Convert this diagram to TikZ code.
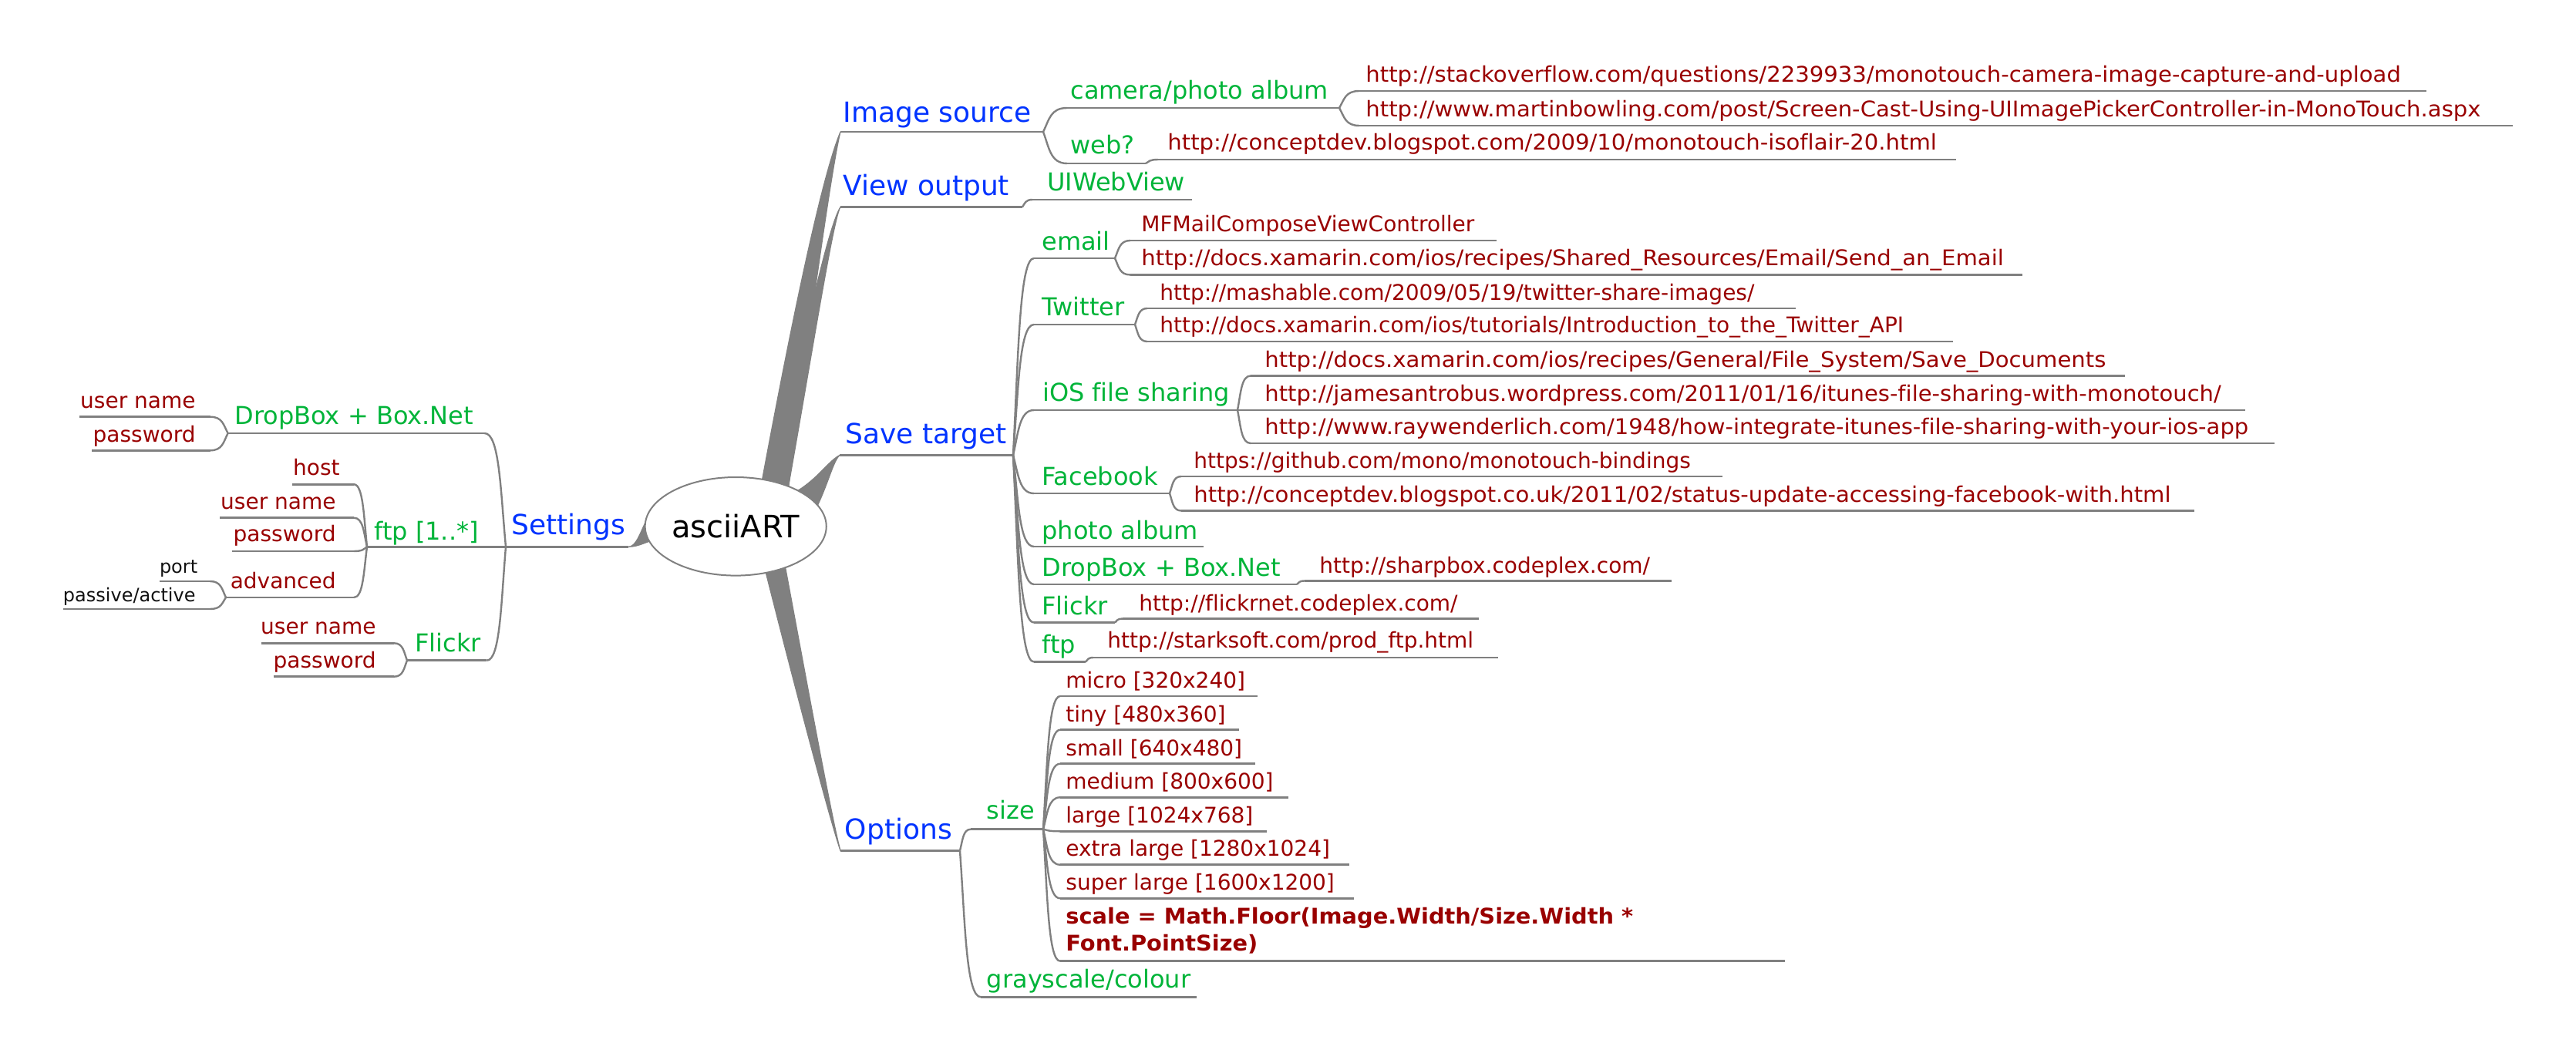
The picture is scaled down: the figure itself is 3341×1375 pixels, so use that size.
\documentclass[tikz,border=0pt]{standalone}
\usepackage{graphicx}
\usepackage{fontspec}
\setmainfont{DejaVu Sans}[Ligatures=NoCommon]
\usetikzlibrary{shapes.geometric,calc}
\definecolor{edgegray}{HTML}{808080}
\definecolor{lblue}{HTML}{0033FF}
\definecolor{lgreen}{HTML}{00B439}
\definecolor{lred}{HTML}{990000}
\definecolor{lblack}{HTML}{111111}
\tikzset{
  rootnode/.style={draw=edgegray, line width=1pt, fill=white, ellipse, inner sep=0pt,
    minimum width=102.5pt, minimum height=63.8pt, font=\fontsize{20}{24}\selectfont, text=black},
  lone/.style={font=\fontsize{18}{21.6}\selectfont, text=lblue, inner sep=0pt},
  ltwo/.style={font=\fontsize{16}{19.2}\selectfont, text=lgreen, inner sep=0pt},
  lthree/.style={font=\fontsize{14}{16.8}\selectfont, text=lred, inner sep=0pt},
  lfour/.style={font=\fontsize{12}{14.4}\selectfont, text=lblack, inner sep=0pt},
  rw/.style={anchor=base west},
  le/.style={anchor=base east},
  uline/.style={draw=edgegray, line width=1.25pt},
  edge/.style={draw=edgegray, line width=1.2pt},
  wedge/.style={fill=edgegray, draw=edgegray, line width=0.6pt, line join=round},
}
\newcommand\mmul[4]{\coordinate (#1-l) at (#2,#4); \coordinate (#1-r) at (#3,#4); \draw[uline] (#1-l) -- (#1-r);}
\newcommand\mmconn[2]{\draw[edge] let \p1=(#1), \p2=(#2) in (\p1) .. controls ({\x1+0.25*(\x2-\x1)},{\y1+0.5*(\y2-\y1)}) and ({\x1+0.3*(\x2-\x1)},\y2) .. (\p2);}
\newcommand\wa[1]{\scalebox{1.04}[1]{#1}}
\newcommand\wb[1]{\scalebox{1.037}[1]{#1}}
\begin{document}
\begin{tikzpicture}[x=0.5pt,y=-0.5pt]
\useasboundingbox (0,0) rectangle (3341,1375);
% underlines
\mmul{imgsrc}{1090}{1353}{171}
\mmul{viewout}{1090}{1326}{268.5}
\mmul{savet}{1089}{1314}{590.5}
\mmul{options}{1090}{1245}{1103.5}
\mmul{settings}{656}{815}{709.3}
\mmul{camera}{1384}{1737}{140}
\mmul{web}{1384}{1486}{212}
\mmul{uiweb}{1339}{1546}{259}
\mmul{email}{1341}{1446}{335}
\mmul{twitter}{1341}{1472}{421}
\mmul{ios}{1341}{1605}{532}
\mmul{facebook}{1341}{1517}{640}
\mmul{photo}{1341}{1561}{709}
\mmul{dropr}{1341}{1682}{758}
\mmul{flickrr}{1341}{1446}{807.6}
\mmul{ftpr}{1341}{1408}{858.6}
\mmul{size}{1259}{1353}{1075.7}
\mmul{gray}{1272}{1552}{1293.3}
\mmul{dropl}{295.6}{628.5}{562}
\mmul{ftpl}{476}{656}{709.3}
\mmul{flickrl}{528}{631.4}{856.7}
\mmul{so}{1763}{3147}{118}
\mmul{mb}{1763}{3259}{163}
\mmul{cda}{1502}{2537}{207}
\mmul{mfmail}{1466}{1941}{312}
\mmul{xemail}{1466}{2623}{356.5}
\mmul{mash}{1488}{2329}{400}
\mmul{xtw}{1488}{2533}{443}
\mmul{xsave}{1622}{2756}{487.5}
\mmul{james}{1605}{2912}{532}
\mmul{ray}{1622}{2950}{575}
\mmul{gh}{1532}{2234}{618}
\mmul{cdb}{1532}{2846}{662.5}
\mmul{sharp}{1692}{2168}{753.5}
\mmul{flnet}{1456}{1918}{802.6}
\mmul{stark}{1418}{1943}{853}
\mmul{micro}{1375}{1631}{903}
\mmul{tiny}{1375}{1607}{946.7}
\mmul{small}{1375}{1628}{990.7}
\mmul{medium}{1375}{1671}{1034.3}
\mmul{large}{1375}{1643}{1078.3}
\mmul{xlarge}{1375}{1750}{1121.7}
\mmul{slarge}{1375}{1756}{1165.3}
\mmul{scale}{1375}{2315}{1246.7}
\mmul{dlun}{103}{272.6}{540.7}
\mmul{dlpw}{119}{272.6}{584.3}
\mmul{host}{379}{459}{628.3}
\mmul{ftun}{285}{459}{671.7}
\mmul{ftpw}{301}{459}{715}
\mmul{adv}{293}{459}{775}
\mmul{port}{206.6}{272.6}{754}
\mmul{pasv}{82}{272.6}{790}
\mmul{flun}{338.7}{511}{834.3}
\mmul{flpw}{354.7}{511}{877.7}
% thin connectors
\mmconn{imgsrc-r}{camera-l}
\mmconn{imgsrc-r}{web-l}
\mmconn{camera-r}{so-l}
\mmconn{camera-r}{mb-l}
\mmconn{web-r}{cda-l}
\mmconn{viewout-r}{uiweb-l}
\mmconn{savet-r}{email-l}
\mmconn{savet-r}{twitter-l}
\mmconn{savet-r}{ios-l}
\mmconn{savet-r}{facebook-l}
\mmconn{savet-r}{photo-l}
\mmconn{savet-r}{dropr-l}
\mmconn{savet-r}{flickrr-l}
\mmconn{savet-r}{ftpr-l}
\mmconn{email-r}{mfmail-l}
\mmconn{email-r}{xemail-l}
\mmconn{twitter-r}{mash-l}
\mmconn{twitter-r}{xtw-l}
\mmconn{ios-r}{xsave-l}
\mmconn{ios-r}{james-l}
\mmconn{ios-r}{ray-l}
\mmconn{facebook-r}{gh-l}
\mmconn{facebook-r}{cdb-l}
\mmconn{dropr-r}{sharp-l}
\mmconn{flickrr-r}{flnet-l}
\mmconn{ftpr-r}{stark-l}
\mmconn{options-r}{size-l}
\mmconn{options-r}{gray-l}
\mmconn{size-r}{micro-l}
\mmconn{size-r}{tiny-l}
\mmconn{size-r}{small-l}
\mmconn{size-r}{medium-l}
\mmconn{size-r}{large-l}
\mmconn{size-r}{xlarge-l}
\mmconn{size-r}{slarge-l}
\mmconn{size-r}{scale-l}
\mmconn{settings-l}{dropl-r}
\mmconn{settings-l}{ftpl-r}
\mmconn{settings-l}{flickrl-r}
\mmconn{dropl-l}{dlun-r}
\mmconn{dropl-l}{dlpw-r}
\mmconn{ftpl-l}{host-r}
\mmconn{ftpl-l}{ftun-r}
\mmconn{ftpl-l}{ftpw-r}
\mmconn{ftpl-l}{adv-r}
\mmconn{adv-l}{port-r}
\mmconn{adv-l}{pasv-r}
\mmconn{flickrl-l}{flun-r}
\mmconn{flickrl-l}{flpw-r}
% thick tapered connectors from the root
\filldraw[wedge] (976,690) .. controls (1000,560) and (1057,250) .. (imgsrc-l) .. controls (1079,215) and (1050,420) .. (1015,690) -- cycle;
\filldraw[wedge] (995,690) .. controls (1020,540) and (1070,300) .. (viewout-l) .. controls (1080,285) and (1050,480) .. (1012,690) -- cycle;
\filldraw[wedge] (1000,650) .. controls (1050,640) and (1070,600) .. (savet-l) .. controls (1078,600) and (1070,650) .. (1040,690) -- cycle;
\filldraw[wedge] (980,690) .. controls (1020,850) and (1075,1060) .. (options-l) .. controls (1078,1060) and (1040,850) .. (1010,690) -- cycle;
\filldraw[wedge] (900,666) -- (848,666) .. controls (835,667) and (830,709.3) .. (settings-r) .. controls (830,709.3) and (840,701) .. (852,700) -- (900,700) -- cycle;
% root
\node[rootnode] (root) at (954.2,682.8) {asciiART};
% level 1
\node[lone,rw] (imgsrc) at (1093,158.3) {Image source};
\node[lone,rw] (viewout) at (1093,254) {View output};
\node[lone,rw] (savet) at (1096,575) {Save target};
\node[lone,rw] (options) at (1095.5,1088) {Options};
\node[lone,rw] (settings) at (663,693.3) {Settings};
% level 2
\node[ltwo,rw] (camera) at (1388,129) {camera/photo album};
\node[ltwo,rw] (web) at (1388,200) {web?};
\node[ltwo,rw] (uiweb) at (1358,248) {UIWebView};
\node[ltwo,rw] (email) at (1351,324) {email};
\node[ltwo,rw] (twitter) at (1351,409.6) {Twitter};
\node[ltwo,rw] (ios) at (1351.7,520) {iOS file sharing};
\node[ltwo,rw] (facebook) at (1351,629) {Facebook};
\node[ltwo,rw] (photo) at (1351,699) {photo album};
\node[ltwo,rw] (dropr) at (1351,747) {DropBox + Box.Net};
\node[ltwo,rw] (flickrr) at (1351,797) {Flickr};
\node[ltwo,rw] (ftpr) at (1351,847) {ftp};
\node[ltwo,rw] (size) at (1279.5,1062.7) {size};
\node[ltwo,rw] (gray) at (1279.5,1281.7) {grayscale/colour};
\node[ltwo,rw] (dropl) at (304,550.7) {DropBox + Box.Net};
\node[ltwo,rw] (ftpl) at (485,700) {ftp [1..*]};
\node[ltwo,rw] (flickrl) at (538,845) {Flickr};
% level 3
\node[lthree,rw] (so) at (1771,107) {\wa{http://stackoverflow.com/questions/2239933/monotouch-camera-image-capture-and-upload}};
\node[lthree,rw] (mb) at (1771,152) {\wa{http://www.martinbowling.com/post/Screen-Cast-Using-UIImagePickerController-in-MonoTouch.aspx}};
\node[lthree,rw] (cda) at (1514,195) {\wa{http://conceptdev.blogspot.com/2009/10/monotouch-isoflair-20.html}};
\node[lthree,rw] (mfmail) at (1480,300.6) {MFMailComposeViewController};
\node[lthree,rw] (xemail) at (1480,344.5) {\wa{http://docs.xamarin.com/ios/recipes/Shared\_Resources/Email/Send\_an\_Email}};
\node[lthree,rw] (mash) at (1504,389) {http://mashable.com/2009/05/19/twitter-share-images/};
\node[lthree,rw] (xtw) at (1504,431) {http://docs.xamarin.com/ios/tutorials/Introduction\_to\_the\_Twitter\_API};
\node[lthree,rw] (xsave) at (1640,476.7) {\wa{http://docs.xamarin.com/ios/recipes/General/File\_System/Save\_Documents}};
\node[lthree,rw] (james) at (1640,520) {\wb{http://jamesantrobus.wordpress.com/2011/01/16/itunes-file-sharing-with-monotouch/}};
\node[lthree,rw] (ray) at (1640,563) {\wb{http://www.raywenderlich.com/1948/how-integrate-itunes-file-sharing-with-your-ios-app}};
\node[lthree,rw] (gh) at (1548,607) {https://github.com/mono/monotouch-bindings};
\node[lthree,rw] (cdb) at (1548,651) {\wa{http://conceptdev.blogspot.co.uk/2011/02/status-update-accessing-facebook-with.html}};
\node[lthree,rw] (sharp) at (1711,743) {http://sharpbox.codeplex.com/};
\node[lthree,rw] (flnet) at (1477,792) {http://flickrnet.codeplex.com/};
\node[lthree,rw] (stark) at (1436,840.7) {http://starksoft.com/prod\_ftp.html};
\node[lthree,rw] (micro) at (1382,892.7) {micro [320x240]};
\node[lthree,rw] (tiny) at (1382,936) {tiny [480x360]};
\node[lthree,rw] (small) at (1382,980) {small [640x480]};
\node[lthree,rw] (medium) at (1382,1023.3) {medium [800x600]};
\node[lthree,rw] (large) at (1382,1067.7) {large [1024x768]};
\node[lthree,rw] (xlarge) at (1382,1110.7) {extra large [1280x1024]};
\node[lthree,rw] (slarge) at (1382,1154.3) {super large [1600x1200]};
\node[lthree,rw,font=\fontsize{14}{17.5}\selectfont\bfseries] (scale) at (1382,1198) {\vtop{\hbox{\scalebox{1.03}[1]{scale = Math.Floor(Image.Width/Size.Width *}}\hbox{\scalebox{1.03}[1]{Font.PointSize)}}}};
\node[lthree,le] (dlun) at (254,529) {user name};
\node[lthree,le] (dlpw) at (254,573) {password};
\node[lthree,le] (host) at (441,616.7) {host};
\node[lthree,le] (ftun) at (436,660) {user name};
\node[lthree,le] (ftpw) at (436,702.7) {password};
\node[lthree,le] (adv) at (436,763) {advanced};
\node[lthree,le] (flun) at (488,822.7) {user name};
\node[lthree,le] (flpw) at (488,866.7) {password};
% level 4
\node[lfour,le] (port) at (256.6,743) {port};
\node[lfour,le] (pasv) at (254,780) {passive/active};
\end{tikzpicture}
\end{document}
